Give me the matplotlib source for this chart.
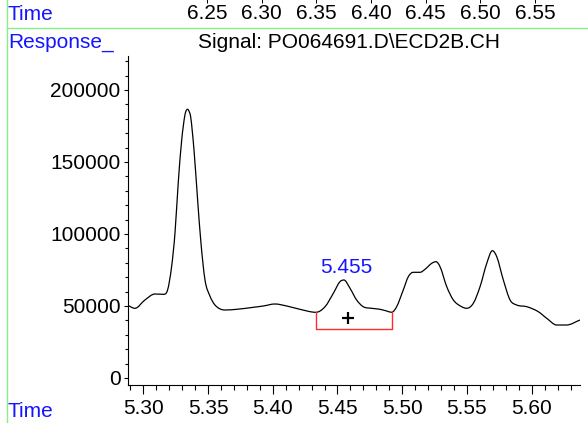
from matplotlib import pyplot as plt
from matplotlib.ticker import MultipleLocator, FixedLocator, FixedFormatter
from matplotlib.lines import Line2D
from matplotlib.path import Path
from matplotlib.patches import PathPatch
import matplotlib

matplotlib.rcParams['font.family'] = ['Liberation Sans', 'DejaVu Sans']

# chromatogram trace (time in min, response)
times = [5.2880, 5.2936, 5.3013, 5.3090, 5.3154, 5.3188, 5.3219, 5.3245,
         5.3270, 5.3297, 5.3322, 5.3332, 5.3343, 5.3353, 5.3366, 5.3392,
         5.3420, 5.3446, 5.3477, 5.3515, 5.3554, 5.3631, 5.3721, 5.3850,
         5.3927, 5.4017, 5.4108, 5.4210, 5.4334, 5.4404, 5.4468, 5.4519,
         5.4550, 5.4597, 5.4648, 5.4699, 5.4764, 5.4828, 5.4880, 5.4919,
         5.4957, 5.5008, 5.5047, 5.5086, 5.5138, 5.5176, 5.5228, 5.5261,
         5.5292, 5.5344, 5.5395, 5.5459, 5.5498, 5.5549, 5.5601, 5.5653,
         5.5696, 5.5730, 5.5781, 5.5833, 5.5884, 5.5962, 5.6051, 5.6116,
         5.6193, 5.6270, 5.6373]
response = [50480, 48400, 54160, 58330, 58120, 61110, 77290, 100480,
            135200, 165270, 182630, 185700, 186590, 185360, 181450, 158320,
            123600, 93540, 68050, 56940, 50690, 47220, 47700, 49090,
            50000, 51390, 50000, 47700, 45620, 49510, 58820, 66870,
            68050, 62290, 54160, 49510, 48400, 47700, 46520, 45620,
            49510, 61110, 70340, 73400, 73400, 75480, 79650, 80760,
            77290, 63400, 54160, 49510, 48400, 51870, 63400, 79650,
            88400, 84230, 68050, 54160, 50690, 49510, 46040, 41460,
            36800, 36800, 40280]

# integrated peak
peak_label = "5.455"
peak_label_pos = (5.4571, 76870)
peak_start = (5.4334, 45620)
peak_end = (5.4919, 45620)
bracket_level = 34030
plus_pos = (5.4581, 41460)

# clipped time axis of the previous panel
top_ticks = [6.25, 6.30, 6.35, 6.40, 6.45, 6.50, 6.55]
top_labels = ["6.25", "6.30", "6.35", "6.40", "6.45", "6.50", "6.55"]

x_ticks = [5.30, 5.35, 5.40, 5.45, 5.50, 5.55, 5.60]
x_labels = ["5.30", "5.35", "5.40", "5.45", "5.50", "5.55", "5.60"]
y_ticks = [0, 50000, 100000, 150000, 200000]

signal_name = "Signal: PO064691.D\\ECD2B.CH"

W, H = 588.0, 423.0
FS = 15
BLUE = '#1414ff'
GREEN = '#88f088'


def px(x, y):
    return x / W, 1 - y / H


def smooth_path(xs, ys):
    # cubic hermite pieces drawn as bezier segments, flat at local extremes
    n = len(xs)
    sec = [(ys[i + 1] - ys[i]) / (xs[i + 1] - xs[i]) for i in range(n - 1)]
    m = [sec[0]]
    for i in range(1, n - 1):
        if sec[i - 1] * sec[i] <= 0:
            m.append(0.0)
        else:
            m.append((sec[i - 1] + sec[i]) / 2)
    m.append(sec[-1])
    verts = [(xs[0], ys[0])]
    codes = [Path.MOVETO]
    for i in range(n - 1):
        h = xs[i + 1] - xs[i]
        verts += [(xs[i] + h / 3, ys[i] + m[i] * h / 3),
                  (xs[i + 1] - h / 3, ys[i + 1] - m[i + 1] * h / 3),
                  (xs[i + 1], ys[i + 1])]
        codes += [Path.CURVE4] * 3
    return Path(verts, codes)


def draw_frame(fig):
    fig.add_artist(Line2D([6.5 / W, 6.5 / W], [0, 1], color=GREEN, lw=1.0))
    fig.add_artist(Line2D([6.5 / W, 1], [1 - 28 / H, 1 - 28 / H], color=GREEN, lw=1.0))
    fig.text(*px(8, 14), "Time", color=BLUE, fontsize=FS, ha='left', va='center')
    fig.text(*px(8, 42), "Response_", color=BLUE, fontsize=FS, ha='left', va='center')
    fig.text(*px(8, 411), "Time", color=BLUE, fontsize=FS, ha='left', va='center')
    fig.text(*px(349, 43), signal_name, color='black', fontsize=FS, ha='center', va='center')


def draw_header(fig):
    hdr = fig.add_axes([127.7 / W, 1 - 3 / H, (580 - 127.7) / W, 3 / H])
    hdr.set_xlim(6.1775, 6.5911)
    hdr.patch.set_visible(False)
    for s in hdr.spines.values():
        s.set_visible(False)
    hdr.set_yticks([])
    hdr.xaxis.set_major_locator(FixedLocator(top_ticks))
    hdr.xaxis.set_major_formatter(FixedFormatter(top_labels))
    hdr.tick_params(axis='x', direction='in', length=3, width=0.7, pad=1, labelsize=FS)


def draw_chromatogram(fig):
    ax = fig.add_axes([127.7 / W, 1 - 385 / H, (580 - 127.7) / W, (385 - 56) / H])
    ax.add_patch(PathPatch(smooth_path(times, response), fill=False,
                           edgecolor='black', lw=0.9))

    x0, v0 = peak_start
    x1, v1 = peak_end
    ax.plot([x0, x0, x1, x1], [v0, bracket_level, bracket_level, v1], color='#ff2a2a', lw=1.0)
    ax.plot(*plus_pos, marker='+', color='black', markersize=8, mew=1.6)
    ax.text(*peak_label_pos, peak_label, color=BLUE, fontsize=FS, ha='center', va='center')

    ax.set_xlim(5.2880, 5.6373)
    ax.set_ylim(-4861, 223600)
    ax.spines['top'].set_visible(False)
    ax.spines['right'].set_visible(False)
    for s in ('left', 'bottom'):
        ax.spines[s].set_linewidth(0.8)

    ax.set_xticks(x_ticks)
    ax.set_xticklabels(x_labels)
    ax.xaxis.set_minor_locator(MultipleLocator(0.01))
    ax.set_yticks(y_ticks)
    ax.set_yticklabels([str(v) for v in y_ticks])
    ax.yaxis.set_minor_locator(MultipleLocator(10000))

    ax.tick_params(axis='x', which='major', length=6.5, width=0.8, pad=3.5, labelsize=FS)
    ax.tick_params(axis='x', which='minor', length=3.5, width=0.8)
    ax.tick_params(axis='y', which='major', length=3.2, width=0.8, pad=2, labelsize=FS)
    ax.tick_params(axis='y', which='minor', length=2, width=0.8)
    return ax


if __name__ == '__main__':
    fig = plt.figure(figsize=(W / 100, H / 100), dpi=100)
    draw_frame(fig)
    draw_header(fig)
    draw_chromatogram(fig)
    fig.savefig('out.png', dpi=100)
